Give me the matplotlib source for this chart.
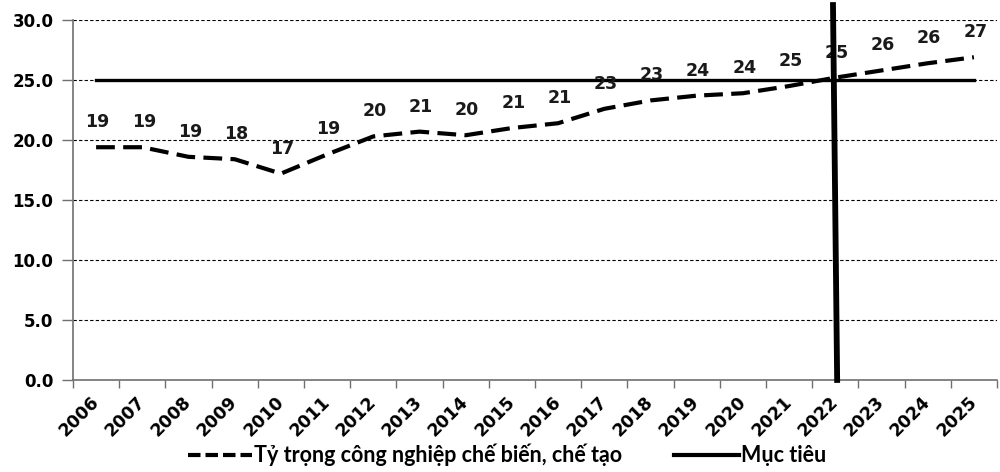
import matplotlib
matplotlib.use("Agg")
import matplotlib.pyplot as plt
from matplotlib.lines import Line2D
import numpy as np

years = ["2006", "2007", "2008", "2009", "2010", "2011", "2012", "2013", "2014", "2015",
         "2016", "2017", "2018", "2019", "2020", "2021", "2022", "2023", "2024", "2025"]
share = [19.4, 19.4, 18.6, 18.4, 17.2, 18.8, 20.3, 20.7, 20.4, 21.0,
         21.4, 22.6, 23.3, 23.7, 23.9, 24.5, 25.2, 25.8, 26.4, 26.9]
target = [25.0] * len(years)
share_labels = [19, 19, 19, 18, 17, 19, 20, 21, 20, 21,
                21, 23, 23, 24, 24, 25, 25, 26, 26, 27]
marker_year = "2022"
y_ticks = [0, 5, 10, 15, 20, 25, 30]
share_name = "Tỷ trọng công nghiệp chế biến, chế tạo"
target_name = "Mục tiêu"

fig = plt.figure(figsize=(10, 4.72), dpi=100)
ax = fig.add_axes([0.073, 0.195, 0.924, 0.7625])

x = np.arange(len(years))
ax.set_xlim(-0.5, len(years) - 0.5)
ax.set_ylim(0, 30)

# gridlines
for v in y_ticks[1:]:
    ax.axhline(v, color="black", lw=0.8, ls=(0, (3, 2)), zorder=1)

ax.plot(x, share, color="black", lw=3.0, dashes=(4.5, 2),
        dash_capstyle="butt", zorder=3)
ax.plot(x, target, color="black", lw=2.4, zorder=2)

for xi, yi, lab in zip(x, share, share_labels):
    ax.annotate(str(lab), (xi, yi), xytext=(1, 18), textcoords="offset points",
                ha="center", va="center", fontsize=12.5, fontweight="bold",
                color="#1a1a1a", zorder=4)

# vertical marker at the reference year
mi = years.index(marker_year)
ax.plot([mi - 0.05, mi + 0.04], [31.25, 0], color="black", lw=4.2,
        clip_on=False, zorder=5)

ax.set_yticks(y_ticks)
ax.set_yticklabels([f"{v:.1f}" for v in y_ticks], fontsize=12, fontweight="bold")
ax.set_xticks(x)
ax.set_xticks(np.arange(-0.5, len(years), 1.0), minor=True)
ax.set_xticklabels(years, rotation=45, ha="right", va="center",
                   rotation_mode="anchor", fontsize=12.5, fontweight="bold")
ax.tick_params(axis="x", which="major", length=0, pad=14)
ax.tick_params(axis="x", which="minor", length=6, width=1, color="#707070")
ax.tick_params(axis="y", length=8, width=1, color="#707070", pad=6)

for s in ["top", "right"]:
    ax.spines[s].set_visible(False)
for s in ["left", "bottom"]:
    ax.spines[s].set_color("#707070")
    ax.spines[s].set_linewidth(1.2)

handles = [Line2D([], [], color="black", lw=3.0, dashes=(3, 1.2), dash_capstyle="butt"),
           Line2D([], [], color="black", lw=3.0)]
fig.legend(handles=handles, labels=[share_name, target_name], loc="center",
           bbox_to_anchor=(0.507, 0.036), ncol=2, frameon=False,
           prop={"family": "Lato", "weight": "bold", "size": 15.5},
           handlelength=3.0, handletextpad=0.1, columnspacing=2.4)

fig.savefig("out.png", dpi=100, facecolor="white")
